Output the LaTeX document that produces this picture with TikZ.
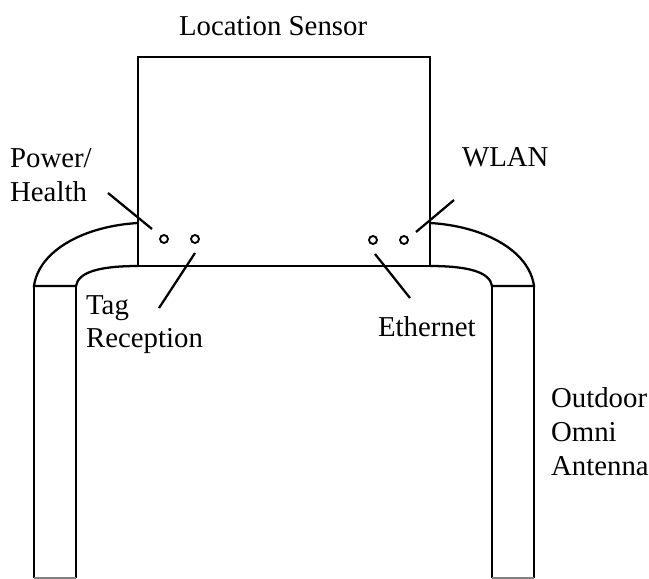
\documentclass[tikz,border=0pt]{standalone}
\usepackage{fontspec}
\setmainfont{Liberation Serif}
\begin{document}
\begin{tikzpicture}[x=0.75pt,y=-0.75pt,line width=1.7pt,
	lbl/.style={anchor=base west,inner sep=0pt,font=\fontsize{21.6}{24}\selectfont},
	port/.style={circle,draw,line width=1.4pt,inner sep=0pt,minimum size=6pt}]
	\useasboundingbox (0,0) rectangle (649,578);
	% sensor box
	\coordinate (BoxTL) at (138,57);
	\coordinate (BoxTR) at (430,57);
	\coordinate (BoxL) at (138,223);
	\coordinate (BoxR) at (430,223);
	\coordinate (BaseL) at (138,266);
	\coordinate (BaseR) at (430,266);
	\draw (BoxL) -- (BoxTL) -- (BoxTR) -- (BoxR);
	\draw[line width=1pt] (BoxL) -- (BaseL);
	\draw[line width=1pt] (BoxR) -- (BaseR);
	\draw (BaseL) -- (BaseR);
	% antennas
	\coordinate (OutL) at (34,286);
	\coordinate (InL) at (76,286);
	\coordinate (OutR) at (534,286);
	\coordinate (InR) at (492,286);
	\draw (BoxL) .. controls (85,226) and (39,250) .. (OutL) -- (InL)
		.. controls (78,272) and (100,266) .. (BaseL);
	\draw (BoxR) .. controls (483,226) and (529,250) .. (OutR) -- (InR)
		.. controls (490,272) and (468,266) .. (BaseR);
	\draw (OutL) -- (34,578);
	\draw (InL) -- (76,578);
	\draw (OutR) -- (534,578);
	\draw (InR) -- (492,578);
	\draw[gray,line width=0.8pt] (34,578) -- (76,578);
	\draw[gray,line width=0.8pt] (492,578) -- (534,578);
	% leds
	\node[port] (Led1) at (164,239) {};
	\node[port] (Led2) at (195,239) {};
	\node[port] (Led3) at (373,240) {};
	\node[port] (Led4) at (404,240) {};
	% labels
	\node[lbl] (Sensor) at (178,35) {Location Sensor};
	\node[lbl] (Power) at (9,167) {Power/};
	\node[lbl] (Health) at (9,201) {Health};
	\node[lbl] (Wlan) at (461,166) {WLAN};
	\node[lbl] (Tag) at (85,314) {Tag};
	\node[lbl] (Recep) at (85,347) {Reception};
	\node[lbl] (Eth) at (377,336) {Ethernet};
	\node[lbl] (Outdoor) at (550,407) {Outdoor};
	\node[lbl] (Omni) at (550,441) {Omni};
	\node[lbl] (Antenna) at (550,475) {Antenna};
	% leaders
	\coordinate (P1) at (108,193);
	\coordinate (P2) at (152,229);
	\coordinate (P3) at (195,253);
	\coordinate (P4) at (159,308);
	\coordinate (P5) at (454,200);
	\coordinate (P6) at (416,232);
	\coordinate (P7) at (375,254);
	\coordinate (P8) at (410,298);
	\draw (P1) -- (P2);
	\draw (P3) -- (P4);
	\draw (P5) -- (P6);
	\draw (P7) -- (P8);
\end{tikzpicture}
\end{document}
